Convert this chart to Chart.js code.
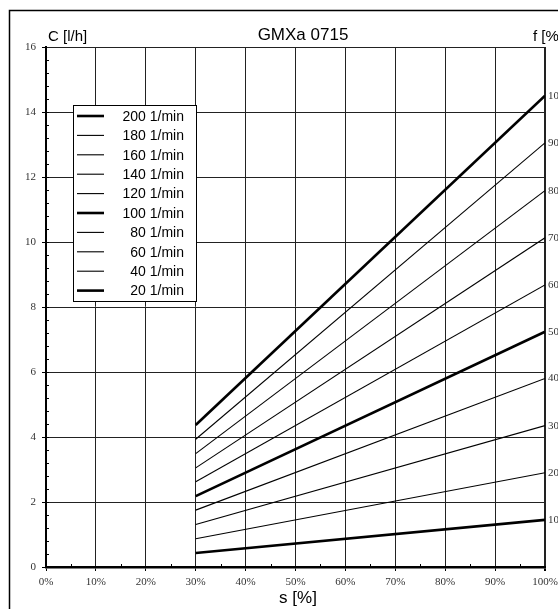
<!DOCTYPE html>
<html>
<head>
<meta charset="utf-8">
<script src="https://cdn.jsdelivr.net/npm/chart.js@4/dist/chart.umd.min.js"></script>
<style>
  html, body { margin: 0; padding: 0; background: #fff; }
  #wrap { width: 558px; height: 609px; }
</style>
</head>
<body>
<div id="wrap"><canvas id="myChart" width="558" height="609"></canvas></div>
<script>
/** 转速（图例） */
var speedLabels = ['200 1/min', '180 1/min', '160 1/min', '140 1/min', '120 1/min',
                   '100 1/min', '80 1/min', '60 1/min', '40 1/min', '20 1/min']
/** 右侧 f [%] 标签 */
var fLabels = ['100', '90', '80', '70', '60', '50', '40', '30', '20', '10']
/** 横坐标 s [%] 起止 */
var strokeX = [30, 100]
/** 纵坐标 C [l/h]，s=30% 与 s=100% 处 */
var flowAt30 = [4.37, 3.93, 3.49, 3.05, 2.62, 2.18, 1.75, 1.31, 0.87, 0.43]
var flowAt100 = [14.5, 13.05, 11.58, 10.13, 8.68, 7.24, 5.8, 4.35, 2.9, 1.45]
/** 粗线 */
var boldLines = ['200 1/min', '100 1/min', '20 1/min']

var datasets = speedLabels.map(function (name, i) {
    var bold = boldLines.indexOf(name) >= 0
    return {
        label: name,
        data: [{x: strokeX[0], y: flowAt30[i]}, {x: strokeX[1], y: flowAt100[i]}],
        borderColor: '#000',
        borderWidth: bold ? 2.6 : 1.1,
        pointRadius: 0,
        fill: false,
        tension: 0
    }
})

var decor = {
    id: 'decor',
    beforeDraw: function (chart) {
        var ctx = chart.ctx
        ctx.save()
        ctx.fillStyle = '#fff'
        ctx.fillRect(0, 0, chart.width, chart.height)
        ctx.strokeStyle = '#000'
        ctx.lineWidth = 1.5
        ctx.strokeRect(9.5, 10.5, 560, 620)
        ctx.restore()
    },
    afterDatasetsDraw: function (chart) {
        var ctx = chart.ctx
        var a = chart.chartArea
        var xs = chart.scales.x, ys = chart.scales.y
        ctx.save()
        // 次刻度
        ctx.strokeStyle = '#000'
        ctx.lineWidth = 1
        ctx.beginPath()
        for (var v = 0.4; v < 16; v += 0.4) {
            var py = Math.round(ys.getPixelForValue(v)) + 0.5
            ctx.moveTo(a.left, py); ctx.lineTo(a.left + 3, py)
        }
        for (var s = 5; s < 100; s += 10) {
            var px = Math.round(xs.getPixelForValue(s)) + 0.5
            ctx.moveTo(px, a.bottom); ctx.lineTo(px, a.bottom - 3)
        }
        ctx.stroke()

        // 右侧 f 标签
        ctx.fillStyle = '#333'
        ctx.font = '11px "Liberation Serif", serif'
        ctx.textAlign = 'left'
        ctx.textBaseline = 'middle'
        chart.data.datasets.forEach(function (ds, i) {
            var pts = chart.getDatasetMeta(i).data
            var p = pts[pts.length - 1]
            ctx.fillText(fLabels[i], a.right + 3, p.y)
        })

        // 标题与轴名
        ctx.fillStyle = '#000'
        ctx.font = '17px "Liberation Sans", Arial, sans-serif'
        ctx.textAlign = 'center'
        ctx.fillText('GMXa 0715', 303, 35)
        ctx.fillText('s [%]', 298, 598)
        ctx.font = '15px "Liberation Sans", Arial, sans-serif'
        ctx.textAlign = 'left'
        ctx.fillText('C [l/h]', 48, 37)
        ctx.fillText('f [%]', 533, 37)

        // 图例
        var lx = 73.5, ly = 105.5, lw = 123, lh = 196
        ctx.fillStyle = '#fff'
        ctx.fillRect(lx, ly, lw, lh)
        ctx.strokeStyle = '#000'
        ctx.lineWidth = 1
        ctx.strokeRect(lx, ly, lw, lh)
        ctx.font = '14px "Liberation Sans", Arial, sans-serif'
        ctx.textAlign = 'right'
        ctx.fillStyle = '#000'
        chart.data.datasets.forEach(function (ds, i) {
            var y = 116 + i * 19.4
            ctx.lineWidth = ds.borderWidth
            ctx.beginPath()
            ctx.moveTo(77, y); ctx.lineTo(104, y)
            ctx.stroke()
            ctx.fillText(ds.label, 184, y + 1)
        })
        ctx.restore()
    }
}

var ctx = document.getElementById('myChart').getContext('2d')
var myChart = new Chart(ctx, {
    type: 'line',
    data: {datasets: datasets},
    plugins: [decor],
    options: {
        responsive: false,
        animation: false,
        layout: {padding: {left: 0, right: 13, top: 47, bottom: 0}},
        plugins: {legend: {display: false}, tooltip: {enabled: false}},
        scales: {
            x: {
                type: 'linear',
                min: 0, max: 100,
                afterFit: function (scale) {
                    scale.height = 42
                    scale.paddingLeft = 0
                    scale.paddingRight = 0
                },
                ticks: {
                    stepSize: 10,
                    autoSkip: false,
                    maxRotation: 0,
                    padding: 5,
                    color: '#333',
                    font: {family: '"Liberation Serif", serif', size: 11},
                    callback: function (v) { return v + '%' }
                },
                grid: {
                    color: '#222',
                    lineWidth: function (c) { return c.tick && c.tick.value === 100 ? 2 : 1 },
                    tickLength: 4,
                    tickColor: '#000'
                },
                border: {color: '#000', width: 2.5}
            },
            y: {
                min: 0, max: 16,
                afterFit: function (scale) {
                    scale.width = 46
                    scale.paddingTop = 0
                    scale.paddingBottom = 0
                },
                ticks: {
                    stepSize: 2,
                    padding: 6,
                    color: '#333',
                    font: {family: '"Liberation Serif", serif', size: 11}
                },
                grid: {
                    color: '#222',
                    lineWidth: 1,
                    tickLength: 4,
                    tickColor: '#000'
                },
                border: {color: '#000', width: 2}
            }
        }
    }
})
</script>
</body>
</html>
